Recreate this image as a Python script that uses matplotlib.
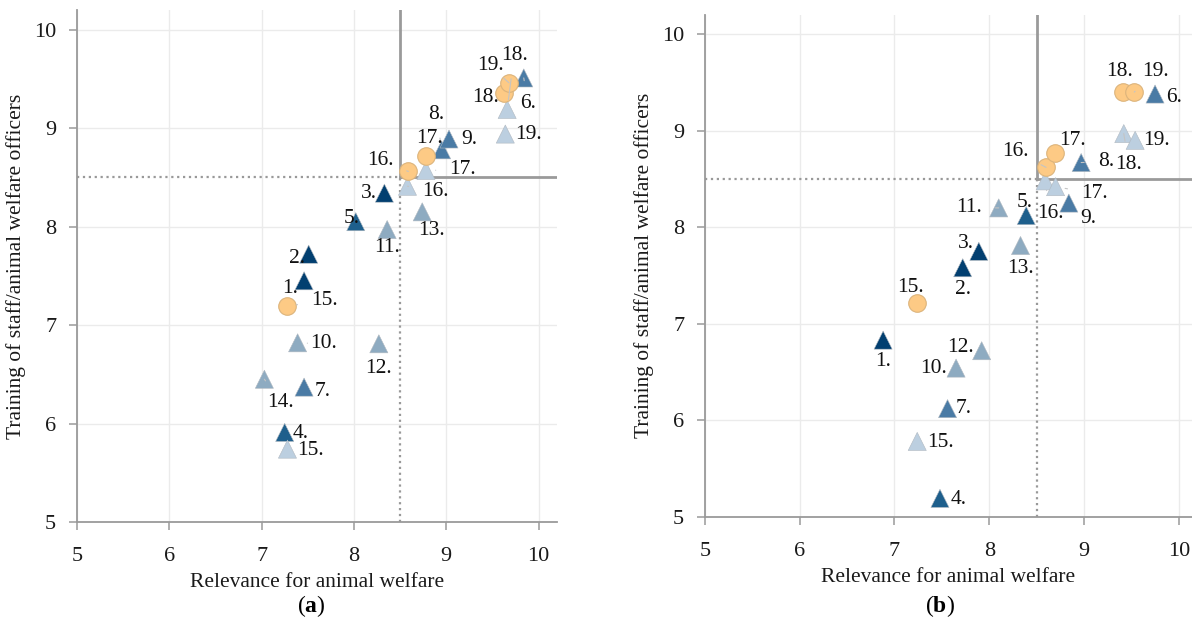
import matplotlib
matplotlib.use("Agg")
import matplotlib.pyplot as plt

plt.rcParams["mathtext.fontset"] = "custom"
plt.rcParams["mathtext.rm"] = "Liberation Serif"
plt.rcParams["mathtext.bf"] = "Liberation Serif:bold"

# ---- data ----
# panel (a)
a_tri_items = [1, 2, 3, 4, 5, 6, 7, 8, 9, 10, 11, 12, 13, 14, 15, 16, 17, 18, 19]
a_tri_x = [7.46, 7.51, 8.33, 7.25, 8.02, 9.84, 7.46, 8.95, 9.03, 7.39, 8.36, 8.27, 8.74, 7.03, 7.28, 8.58, 8.78, 9.66, 9.64]
a_tri_y = [7.45, 7.72, 8.34, 5.91, 8.05, 9.51, 6.37, 8.78, 8.89, 6.82, 7.97, 6.81, 8.15, 6.45, 5.74, 8.41, 8.57, 9.19, 8.94]
a_circ_items = [15, 16, 17, 18, 19]
a_circ_x = [7.27, 8.59, 8.78, 9.63, 9.68]
a_circ_y = [7.19, 8.56, 8.72, 9.36, 9.46]

# panel (b)
b_tri_items = [1, 2, 3, 4, 5, 6, 7, 8, 9, 10, 11, 12, 13, 15, 16, 17, 18, 19]
b_tri_x = [6.88, 7.72, 7.89, 7.48, 8.39, 9.75, 7.56, 8.97, 8.84, 7.65, 8.10, 7.92, 8.33, 7.24, 8.59, 8.70, 9.42, 9.54]
b_tri_y = [6.83, 7.58, 7.75, 5.19, 8.12, 9.38, 6.12, 8.67, 8.25, 6.54, 8.20, 6.72, 7.81, 5.78, 8.48, 8.42, 8.97, 8.90]
b_circ_items = [15, 16, 17, 18, 19]
b_circ_x = [7.24, 8.60, 8.69, 9.41, 9.53]
b_circ_y = [7.21, 8.62, 8.77, 9.40, 9.40]

threshold = 8.5
ticks = [5, 6, 7, 8, 9, 10]

# ---- styles ----
def item_color(i):
    if i <= 3:
        return "#023f70"
    if i <= 5:
        return "#1e5f8c"
    if i <= 9:
        return "#4a7ba5"
    if i <= 14:
        return "#8eabc1"
    return "#bccfe0"

circ_color = "#fdca85"
circ_edge = "#dcb47c"
serif = ["Liberation Serif", "DejaVu Serif"]

# label offsets in pixels (dx right, dy down), per item
a_tri_off = {1: (-14, 8), 2: (-12, 4), 3: (-16, 0), 4: (16, 1), 5: (-4, -3), 6: (4, 26),
             7: (19, 4), 8: (-5, -35), 9: (20, 1), 10: (26, 1), 11: (0, 18), 12: (0, 25),
             13: (9, 19), 14: (16, 23), 15: (23, 1), 16: (28, 5), 17: (37, -1),
             18: (7, -54), 19: (23, 0)}
a_circ_off = {15: (38, -6), 16: (-28, -11), 17: (4, -17), 18: (-19, 5), 19: (-19, -17)}
b_tri_off = {1: (0, 21), 2: (0, 22), 3: (-13, -8), 4: (19, 1), 5: (-2, -13), 6: (19, 3),
             7: (16, 0), 8: (25, -1), 9: (19, 15), 10: (-23, 0), 11: (-30, 0), 12: (-21, -3),
             13: (0, 23), 15: (23, 1), 16: (5, 33), 17: (39, 7), 18: (5, 31), 19: (21, 0)}
b_circ_off = {15: (-7, -16), 16: (-31, -16), 17: (18, -12), 18: (-3, -21), 19: (21, -21)}

fig = plt.figure(figsize=(11.92, 6.3), dpi=100)
ax_a = fig.add_axes([77 / 1192, 1 - 522 / 630, 480 / 1192, 512 / 630])
ax_b = fig.add_axes([705 / 1192, 1 - 516.7 / 630, 487 / 1192, 501.8 / 630])


def label(ax, items, xs, ys, offsets):
    for i, x, y in zip(items, xs, ys):
        dx, dy = offsets[i]
        far = (dx * dx + dy * dy) ** 0.5 > 25
        ax.annotate(f"{i}.", xy=(x, y), xytext=(dx * 0.72, -dy * 0.72),
                    textcoords="offset points", ha="center", va="center",
                    fontsize=15.5, family=serif, color="#111111", zorder=5,
                    arrowprops=dict(arrowstyle="-", color="#c4c4c4", lw=0.8,
                                    shrinkA=8, shrinkB=7) if far else None)


def panel(ax, tri_items, tri_x, tri_y, circ_items, circ_x, circ_y, tri_off, circ_off, xmax):
    ax.set_xlim(5, xmax)
    ax.set_ylim(5, 10.2)
    ax.set_xticks(ticks)
    ax.set_yticks(ticks)
    ax.grid(True, color="#ebebeb", lw=1)
    ax.set_axisbelow(True)
    for s in ["top", "right"]:
        ax.spines[s].set_visible(False)
    for s in ["left", "bottom"]:
        ax.spines[s].set_color("#9a9a9a")
        ax.spines[s].set_linewidth(1.3)
    ax.tick_params(axis="both", colors="#9a9a9a", length=6, width=1.1, labelsize=16,
                   labelcolor="#1a1a1a", pad=9)
    ax.tick_params(axis="x", pad=12)
    for t in ax.get_xticklabels() + ax.get_yticklabels():
        t.set_family(serif)

    # threshold lines
    ax.plot([threshold, threshold], [5, threshold], ls=":", color="#999999", lw=1.6, zorder=1)
    ax.plot([5, threshold], [threshold, threshold], ls=":", color="#999999", lw=1.6, zorder=1)
    ax.plot([threshold, threshold], [threshold, 10.2], color="#9a9a9a", lw=2, zorder=1)
    ax.plot([threshold, xmax], [threshold, threshold], color="#9a9a9a", lw=2, zorder=1)

    ax.scatter(tri_x, tri_y, marker="^", s=170, c=[item_color(i) for i in tri_items],
               edgecolors="#b0b8c0", linewidths=0.4, zorder=3)
    ax.scatter(circ_x, circ_y, marker="o", s=160, c=circ_color,
               edgecolors=circ_edge, linewidths=0.8, zorder=4)
    label(ax, tri_items, tri_x, tri_y, tri_off)
    label(ax, circ_items, circ_x, circ_y, circ_off)

    ax.set_xlabel("Relevance for animal welfare", fontsize=15.5, family=serif,
                  color="#1a1a1a", labelpad=5)
    ax.set_ylabel("Training of staff/animal welfare officers", fontsize=15.5,
                  family=serif, color="#1a1a1a", labelpad=6)


panel(ax_a, a_tri_items, a_tri_x, a_tri_y, a_circ_items, a_circ_x, a_circ_y,
      a_tri_off, a_circ_off, 10.2)
panel(ax_b, b_tri_items, b_tri_x, b_tri_y, b_circ_items, b_circ_x, b_circ_y,
      b_tri_off, b_circ_off, 10.14)

fig.text(311 / 1192, 1 - 606 / 630, r"($\mathbf{a}$)", ha="center", va="center",
         fontsize=17, family=serif)
fig.text(940 / 1192, 1 - 606 / 630, r"($\mathbf{b}$)", ha="center", va="center",
         fontsize=17, family=serif)

fig.savefig("out.png", dpi=100)
